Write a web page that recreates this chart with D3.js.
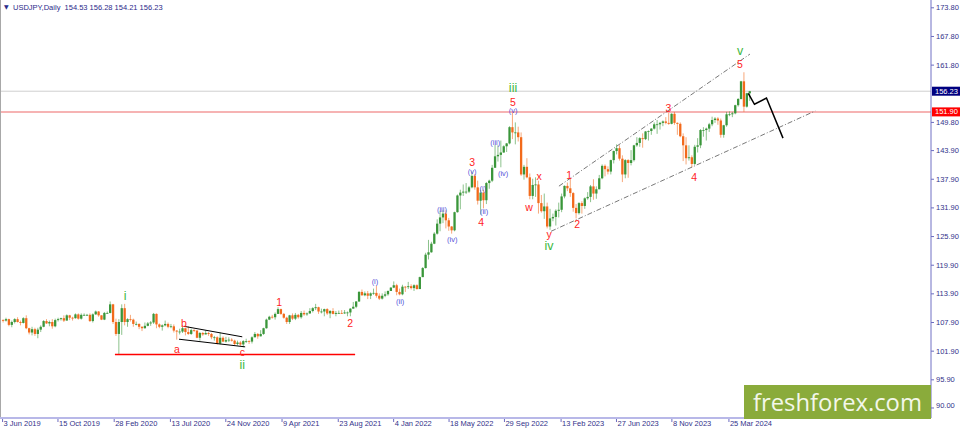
<!DOCTYPE html>
<html>
<head>
<meta charset="utf-8">
<script src="https://cdn.jsdelivr.net/npm/d3@7/dist/d3.min.js"></script>
<style>
    body { margin: 0; background: #ffffff; }
    svg { display: block; font-family: "Liberation Sans", Arial, sans-serif; }
</style>
</head>
<body>
<script>
// USDJPY weekly bars, Jun 2019 - May 2024
var firstWeek = "2019-06-03";
var firstOpen = 108.3;

var closes = [
    // 2019
    108.2,108.5,107.3,107.9,108.5,107.9,107.7,108.7,106.6,105.7,106.4,105.4,106.3,106.9,108.1,107.6,
    107.9,107.0,108.3,108.5,108.7,108.2,109.3,108.8,108.7,109.5,108.6,109.4,109.4,109.4,108.1,
    // 2020
    109.5,110.1,109.3,108.4,109.8,109.8,111.6,107.9,105.4,107.9,110.8,107.9,108.5,108.4,107.5,107.5,
    106.9,106.6,107.1,107.6,107.8,109.6,107.4,106.9,107.2,107.5,106.9,107.0,106.1,105.9,105.9,106.6,
    105.8,105.4,106.2,106.1,104.6,105.6,105.3,105.6,105.4,104.7,104.7,103.4,104.6,103.8,104.1,104.2,
    104.0,103.3,103.6,103.2,
    // 2021
    103.9,103.9,103.8,104.7,105.4,104.9,105.4,106.6,108.4,109.0,108.9,109.6,110.6,109.6,108.8,107.9,
    109.3,108.6,109.4,108.9,109.8,109.5,109.7,110.2,110.8,111.0,110.1,110.1,110.6,109.7,110.2,109.6,
    109.8,109.8,109.7,109.9,109.9,110.7,111.1,112.2,114.2,113.5,113.9,113.4,113.9,114.0,113.4,112.8,
    113.4,113.7,114.4,115.1,
    // 2022
    115.6,114.2,113.7,115.3,115.2,115.4,115.0,115.6,114.8,117.3,119.2,122.0,122.5,124.3,126.4,128.5,
    129.8,130.6,129.2,127.9,127.1,130.9,134.4,135.0,135.2,135.2,136.1,138.5,136.1,133.3,135.0,133.4,
    137.0,137.5,140.2,142.6,142.9,143.4,144.7,145.3,148.7,147.6,147.6,146.6,138.8,140.4,138.2,134.3,
    136.6,136.7,132.8,131.1,
    // 2023
    132.1,127.9,129.6,129.9,131.2,131.4,134.2,136.4,135.9,134.9,131.8,130.7,132.8,132.2,133.8,134.1,
    136.3,134.8,135.7,138.0,140.6,139.9,139.4,141.8,143.7,144.3,142.1,138.8,141.8,141.2,141.8,144.9,
    145.4,146.4,146.2,147.8,147.9,148.4,149.3,149.3,149.6,149.9,149.6,149.4,151.5,149.6,149.4,146.8,
    144.9,142.2,142.4,141.0,
    // 2024
    144.6,144.9,148.1,148.1,148.4,149.3,150.2,150.5,150.1,147.1,149.1,151.4,151.4,151.6,153.3,154.6,
    158.3,153.0,155.8,156.23
];

var highs = [
    108.5,108.8,108.6,108.2,108.7,108.9,108.2,108.9,109.3,106.7,106.9,106.7,106.7,107.2,108.3,108.5,
    108.2,108.5,108.6,108.8,108.8,109.3,109.5,109.4,109.0,109.7,109.7,109.7,109.7,109.6,109.7,
    109.7,110.3,110.2,109.3,110.0,110.1,112.2,111.7,108.6,108.5,111.6,111.7,108.7,109.4,108.6,108.0,
    107.6,107.0,107.8,107.9,108.1,109.8,109.7,107.6,107.4,108.2,107.8,107.5,107.4,106.2,106.5,107.0,
    106.7,107.0,106.5,106.4,106.2,105.8,105.8,106.1,105.8,105.6,105.0,104.9,105.7,104.9,104.8,104.7,
    104.5,104.2,104.0,103.9,
    104.1,104.4,104.1,104.9,105.8,105.6,106.2,106.7,108.6,109.2,109.4,109.9,111.0,110.7,109.8,109.0,
    109.4,109.7,109.8,109.6,110.2,110.3,109.9,110.8,111.0,111.7,111.1,110.7,110.7,110.8,110.4,110.8,
    110.2,110.3,110.4,110.4,110.1,110.8,112.1,112.3,114.4,114.7,114.3,114.4,114.1,114.9,115.5,113.9,
    113.9,114.3,114.5,115.2,
    116.4,115.9,114.9,115.7,115.4,116.3,115.8,115.8,115.8,117.4,119.4,122.4,125.1,124.7,126.7,129.4,
    131.2,131.3,131.3,129.7,128.0,131.0,134.6,135.6,136.7,137.0,136.4,139.4,138.9,137.5,135.6,135.6,
    137.2,137.7,140.8,145.0,144.9,145.9,144.9,145.4,148.9,151.9,149.7,148.8,147.6,140.8,142.2,139.0,
    137.9,138.2,137.5,134.5,
    134.8,132.9,131.6,130.6,131.5,132.9,134.8,136.5,137.1,137.9,135.1,132.6,133.0,133.2,134.0,135.1,
    136.6,137.8,136.3,138.7,140.9,140.9,140.5,141.9,143.8,145.1,144.9,142.8,142.0,142.0,143.9,145.0,
    146.6,146.6,147.4,147.9,148.0,148.5,149.7,150.2,149.8,150.1,150.8,151.7,151.6,151.9,149.7,149.7,
    147.4,146.6,144.9,142.8,
    145.0,146.4,148.3,148.7,148.6,149.6,150.9,150.8,150.8,150.5,149.2,151.9,152.0,151.9,153.4,154.8,
    158.4,160.2,155.9,156.3
];

var lows = [
    107.8,108.0,107.0,106.8,107.6,107.8,107.2,107.6,106.4,105.3,105.1,105.0,104.5,105.8,106.8,107.5,
    107.0,106.5,106.8,108.0,108.2,107.9,108.2,108.3,108.2,108.6,108.4,108.4,109.2,109.2,107.9,
    107.8,109.4,109.0,108.3,108.3,109.6,109.7,107.5,105.0,101.2,105.2,107.2,106.9,108.0,106.9,107.2,
    106.4,106.0,106.5,107.0,107.1,107.5,106.6,106.6,106.1,107.0,106.6,106.6,105.7,104.2,105.3,105.6,
    105.1,105.2,105.2,105.8,104.5,104.0,105.0,105.3,105.0,104.3,104.0,103.2,103.2,103.7,103.6,103.7,
    103.8,102.9,103.0,102.9,
    102.6,103.5,103.3,103.4,104.7,104.4,104.9,105.2,106.5,108.3,108.6,108.4,109.6,109.4,108.6,107.5,
    107.5,108.3,108.3,108.6,108.6,109.2,109.2,109.6,109.9,110.4,109.6,109.7,109.1,109.4,108.7,109.5,
    109.1,109.6,109.6,109.6,109.1,109.1,110.7,110.8,112.1,113.4,113.3,112.7,112.7,113.6,113.0,112.5,
    112.6,113.1,113.4,114.4,
    115.0,113.5,113.5,113.5,114.2,114.8,114.7,114.4,114.7,114.8,117.3,119.1,121.0,122.4,124.2,126.2,
    126.9,128.6,127.5,127.0,126.4,126.9,130.8,131.5,134.3,134.7,134.9,135.9,135.6,132.5,130.4,131.7,
    132.6,135.8,137.2,140.2,141.5,140.3,143.3,143.5,145.1,146.2,145.1,145.7,138.5,137.7,138.0,133.6,
    133.6,134.1,130.6,130.8,
    129.5,127.5,127.2,129.0,128.1,129.8,130.9,133.8,135.3,134.1,131.0,129.6,130.4,130.6,131.6,133.5,
    133.0,133.5,133.7,135.7,137.8,138.4,138.8,138.8,141.1,143.0,141.7,137.2,138.0,138.1,140.7,141.5,
    144.6,144.6,144.4,146.0,145.9,147.1,148.2,147.3,148.2,148.9,149.3,149.2,149.3,149.2,147.1,146.6,
    141.6,140.9,141.7,140.3,
    140.8,143.4,144.3,146.7,145.9,147.7,148.9,149.6,149.2,146.5,146.5,148.8,151.0,150.8,151.4,153.0,
    154.5,151.9,152.8,154.2
];

var priceTicks = [173.8, 167.8, 161.8, 149.8, 143.9, 137.9, 131.9, 125.9, 119.9, 113.9, 107.9, 101.9, 95.9, 90.0];
var dateTicks = ["2019-06-03", "2019-10-15", "2020-02-28", "2020-07-13", "2020-11-24", "2021-04-09", "2021-08-23",
    "2022-01-04", "2022-05-18", "2022-09-29", "2023-02-13", "2023-06-27", "2023-11-08", "2024-03-25"];

var titleText = "USDJPY,Daily  154.53 156.28 154.21 156.23";
var lastPrice = 156.23;
var levelPrice = 151.90;

// wave marks: date, price, text, kind (g = green, r = red, b = blue minor)
var waveLabels = [
    ["2020-03-27", 113.3, "i", "g"], ["2020-07-30", 102.2, "a", "r"], ["2020-08-16", 107.6, "b", "r"],
    ["2021-01-04", 101.6, "c", "r"], ["2021-01-04", 99.0, "ii", "g"], ["2021-04-03", 112.0, "1", "r"],
    ["2021-09-22", 107.6, "2", "r"], ["2021-11-21", 116.4, "(i)", "b"], ["2022-01-21", 112.3, "(ii)", "b"],
    ["2022-05-02", 131.5, "(iii)", "b"], ["2022-05-27", 125.2, "(iv)", "b"], ["2022-07-14", 141.5, "3", "r"],
    ["2022-07-14", 139.4, "(v)", "b"], ["2022-08-09", 135.9, "(i)", "b"], ["2022-08-12", 131.1, "(ii)", "b"],
    ["2022-08-05", 128.8, "4", "r"], ["2022-09-08", 145.4, "(iii)", "b"], ["2022-09-27", 139.1, "(iv)", "b"],
    ["2022-10-21", 156.8, "iii", "g"], ["2022-10-21", 154.0, "5", "r"], ["2022-10-21", 152.1, "(v)", "b"],
    ["2022-12-23", 138.4, "x", "r"], ["2022-11-29", 132.0, "w", "r"], ["2023-01-16", 126.3, "y", "r"],
    ["2023-01-16", 123.9, "iv", "g"], ["2023-03-06", 138.7, "1", "r"], ["2023-03-25", 128.4, "2", "r"],
    ["2023-11-01", 152.7, "3", "r"], ["2024-01-02", 138.2, "4", "r"], ["2024-04-22", 164.7, "v", "g"],
    ["2024-04-22", 161.9, "5", "r"]
];

var supportLine = [["2020-03-02", 101.1], ["2021-10-04", 101.1]];
var wedgeUpper = [["2020-08-16", 107.0], ["2021-01-04", 104.8]];
var wedgeLower = [["2020-08-04", 104.3], ["2021-01-11", 102.7]];
var channelUpper = [["2023-02-09", 136.35], ["2024-05-16", 164.0]];
var channelLower = [["2023-01-21", 126.9], ["2024-10-21", 152.1]];
var forecastPath = [["2024-05-12", 155.8], ["2024-05-27", 153.5], ["2024-06-25", 154.8], ["2024-08-04", 146.4]];

var parseDate = d3.timeParse("%Y-%m-%d");

function init() {
    var w = 960;
    var h = 430;
    var plotRight = 931;
    var plotBottom = 418;
    var upColor = "#3a963a";
    var downColor = "#f26a1b";

    var xScale = d3.scaleTime()
        .domain([parseDate("2019-05-29"), parseDate("2025-07-28")])
        .range([0, plotRight]);

    var yScale = d3.scaleLinear()
        .domain([87.8, 175.33])
        .range([plotBottom, 0]);

    var svg = d3.select("body")
        .append("svg")
        .attr("width", w)
        .attr("height", h);

    // weekly bars, open = previous close, placed mid-week
    var start = parseDate(firstWeek);
    var bars = closes.map(function (c, i) {
        return {
            date: d3.timeHour.offset(d3.timeWeek.offset(start, i), 60),
            open: i === 0 ? firstOpen : closes[i - 1],
            high: highs[i],
            low: lows[i],
            close: c
        };
    });

    var line = d3.line()
        .x(function (d) { return xScale(parseDate(d[0])); })
        .y(function (d) { return yScale(d[1]); });

    // price levels
    svg.append("line")
        .attr("x1", 0).attr("x2", plotRight)
        .attr("y1", yScale(lastPrice)).attr("y2", yScale(lastPrice))
        .attr("stroke", "#cfcfcf")
        .attr("stroke-width", 1);

    svg.append("line")
        .attr("x1", 0).attr("x2", plotRight)
        .attr("y1", yScale(levelPrice)).attr("y2", yScale(levelPrice))
        .attr("stroke", "#f39a9a")
        .attr("stroke-width", 1.5);

    // candles
    var candle = svg.append("g")
        .selectAll("g")
        .data(bars)
        .enter()
        .append("g")
        .attr("fill", function (d) { return d.close >= d.open ? upColor : downColor; })
        .attr("stroke", function (d) { return d.close >= d.open ? upColor : downColor; });

    candle.append("line")
        .attr("x1", function (d) { return xScale(d.date); })
        .attr("x2", function (d) { return xScale(d.date); })
        .attr("y1", function (d) { return yScale(d.high); })
        .attr("y2", function (d) { return yScale(d.low); })
        .attr("stroke-width", 0.9)
        .attr("stroke-opacity", 0.65);

    candle.append("rect")
        .attr("stroke", "none")
        .attr("x", function (d) { return xScale(d.date) - 1.15; })
        .attr("width", 2.3)
        .attr("y", function (d) { return yScale(Math.max(d.open, d.close)); })
        .attr("height", function (d) {
            return Math.max(0.8, Math.abs(yScale(d.open) - yScale(d.close)));
        });

    // trend lines
    svg.append("path").datum(supportLine)
        .attr("d", line).attr("fill", "none")
        .attr("stroke", "#ff0000").attr("stroke-width", 1.5);

    [wedgeUpper, wedgeLower].forEach(function (l) {
        svg.append("path").datum(l)
            .attr("d", line).attr("fill", "none")
            .attr("stroke", "#000").attr("stroke-width", 1);
    });

    [channelUpper, channelLower].forEach(function (l) {
        svg.append("path").datum(l)
            .attr("d", line).attr("fill", "none")
            .attr("stroke", "#555").attr("stroke-width", 0.8)
            .attr("stroke-dasharray", "5,2,1,2");
    });

    svg.append("path").datum(forecastPath)
        .attr("d", line).attr("fill", "none")
        .attr("stroke", "#000").attr("stroke-width", 1.5);

    // wave labels
    var labelStyle = {
        g: { color: "#40b840", size: 12.5 },
        r: { color: "#ff2424", size: 10.5 },
        b: { color: "#5252d8", size: 7.5 }
    };

    svg.append("g")
        .selectAll("text")
        .data(waveLabels)
        .enter()
        .append("text")
        .attr("x", function (d) { return xScale(parseDate(d[0])); })
        .attr("y", function (d) { return yScale(d[1]); })
        .attr("text-anchor", "middle")
        .attr("dominant-baseline", "central")
        .attr("fill", function (d) { return labelStyle[d[3]].color; })
        .attr("font-size", function (d) { return labelStyle[d[3]].size; })
        .text(function (d) { return d[2]; });

    // axes
    var yAxis = d3.axisRight(yScale)
        .tickValues(priceTicks)
        .tickFormat(d3.format(".2f"))
        .tickSize(3);

    var gy = svg.append("g")
        .attr("transform", "translate(" + plotRight + ",0)")
        .call(yAxis);
    gy.select(".domain").remove();
    gy.selectAll("line").attr("stroke", "#6c6cc0");
    gy.selectAll("text")
        .attr("x", 5)
        .attr("fill", "#32328a")
        .attr("font-size", 7.5)
        .attr("font-family", "Liberation Sans, Arial, sans-serif");
    // bottom price sits a little above the edge, as in the terminal
    gy.selectAll(".tick")
        .filter(function (d) { return d === 90; })
        .select("text")
        .attr("y", -2);

    var xAxis = d3.axisBottom(xScale)
        .tickValues(dateTicks.map(parseDate))
        .tickFormat(d3.timeFormat("%-d %b %Y"))
        .tickSize(4);

    var gx = svg.append("g")
        .attr("transform", "translate(0," + plotBottom + ")")
        .call(xAxis);
    gx.select(".domain").remove();
    gx.selectAll("line").attr("stroke", "#6c6cc0");
    gx.selectAll("text")
        .attr("text-anchor", "start")
        .attr("x", 1)
        .attr("y", 3)
        .attr("fill", "#32328a")
        .attr("font-size", 7.5)
        .attr("font-family", "Liberation Sans, Arial, sans-serif");

    // frame
    svg.append("line")
        .attr("x1", 0.5).attr("x2", 0.5).attr("y1", 0).attr("y2", plotBottom)
        .attr("stroke", "#a8a8a8");
    svg.append("line")
        .attr("x1", 0).attr("x2", plotRight).attr("y1", plotBottom).attr("y2", plotBottom)
        .attr("stroke", "#b8b8e8").attr("stroke-width", 2);
    svg.append("line")
        .attr("x1", plotRight).attr("x2", plotRight).attr("y1", 0).attr("y2", plotBottom)
        .attr("stroke", "#7070c4");

    // price tags on the axis
    [[lastPrice, "#000080"], [levelPrice, "#ff0000"]].forEach(function (t) {
        var y = yScale(t[0]);
        svg.append("rect")
            .attr("x", plotRight + 1).attr("y", y - 4.5)
            .attr("width", w - plotRight - 1).attr("height", 9)
            .attr("fill", t[1]);
        svg.append("text")
            .attr("x", plotRight + 4).attr("y", y)
            .attr("dominant-baseline", "central")
            .attr("fill", "#ffffff")
            .attr("font-size", 7.5)
            .text(t[0].toFixed(2));
    });

    // title
    svg.append("text")
        .attr("x", 4).attr("y", 9)
        .attr("fill", "#2a2a8a")
        .attr("font-size", 6)
        .attr("font-family", "DejaVu Sans, sans-serif")
        .text("\u25BC");
    svg.append("text")
        .attr("x", 13).attr("y", 9.5)
        .attr("fill", "#2a2a8a")
        .attr("font-size", 7.5)
        .style("white-space", "pre")
        .text(titleText);

    // watermark
    svg.append("rect")
        .attr("x", 744).attr("y", 385)
        .attr("width", plotRight - 744).attr("height", 34)
        .attr("fill", "#8aab3b");
    svg.append("text")
        .attr("x", 753).attr("y", 411)
        .attr("fill", "#f3f7ea")
        .attr("font-size", 24)
        .attr("font-family", "Open Sans, DejaVu Sans, sans-serif")
        .attr("textLength", 169)
        .attr("lengthAdjust", "spacingAndGlyphs")
        .text("freshforex.com");
}

window.onload = init;
</script>
</body>
</html>
